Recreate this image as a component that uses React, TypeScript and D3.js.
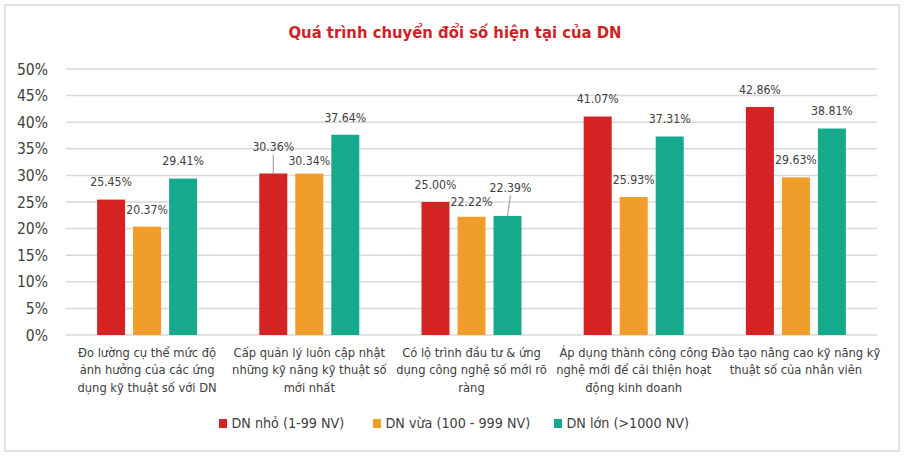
import React from "react";
import * as d3 from "d3";

const title = "Quá trình chuyển đổi số hiện tại của DN";
const categories = [
  ["Đo lường cụ thể mức độ", "ảnh hưởng của các ứng", "dụng kỹ thuật số với DN"],
  ["Cấp quản lý luôn cập nhật", "những kỹ năng kỹ thuật số", "mới nhất"],
  ["Có lộ trình đầu tư & ứng", "dụng công nghệ số mới rõ", "ràng"],
  ["Áp dụng thành công công", "nghệ mới để cải thiện hoạt", "động kinh doanh"],
  ["Đào tạo nâng cao kỹ năng kỹ", "thuật số của nhân viên"],
];
const seriesNames = ["DN nhỏ (1-99 NV)", "DN vừa (100 - 999 NV)", "DN lớn (>1000 NV)"];
const smallValues = [25.45, 30.36, 25.0, 41.07, 42.86];
const mediumValues = [20.37, 30.34, 22.22, 25.93, 29.63];
const largeValues = [29.41, 37.64, 22.39, 37.31, 38.81];
const yTicks = [0, 5, 10, 15, 20, 25, 30, 35, 40, 45, 50];

const colors = ["#d42322", "#f09d29", "#16aa8c"];
// label nudges [series-category] -> [dx, dy, leader line]
const labelNudge: Record<string, [number, number, boolean]> = {
  "0-1": [0, -9, true],
  "1-1": [0, 5, false],
  "1-2": [0, 2, false],
  "2-2": [3, -11, true],
};

const FONT = "'DejaVu Sans Condensed', 'DejaVu Sans', sans-serif";

export default function App() {
  const W = 905, H = 459;
  const left = 66, right = 877, top = 69, bottom = 335;
  const series = [smallValues, mediumValues, largeValues];
  const x0 = d3.scaleBand<number>().domain(d3.range(categories.length)).range([left, right]).padding(0);
  const x1 = d3.scaleBand<number>().domain([0, 1, 2]).range([-54, 54]).paddingInner(8 / 36).paddingOuter(4 / 36);
  const y = d3.scaleLinear().domain([0, 50]).range([bottom, top]);
  const fmt = (v: number) => v.toFixed(2) + "%";

  const legendX = [219, 373, 554];

  return (
    <div style={{ position: "absolute", left: 0, top: 0 }}>
      <svg width={W} height={H} style={{ display: "block", background: "#fff" }}>
        <rect x={5} y={5} width={894} height={446} fill="#fff" stroke="#d9d9d9" strokeWidth={1.5} />
        <text x={455} y={38} textAnchor="middle" fontFamily={FONT} fontWeight="bold" fontSize={16.5} fill="#d21f26">
          {title}
        </text>
        {yTicks.map((t) => (
          <g key={t}>
            <line x1={left} x2={right} y1={y(t)} y2={y(t)} stroke="#d9d9d9" strokeWidth={1.5} />
            <text x={48} y={y(t)} dy="0.36em" textAnchor="end" fontFamily={FONT} fontSize={15.5} fill="#404040">
              {t}%
            </text>
          </g>
        ))}
        {series.map((vals, s) =>
          vals.map((v, c) => {
            const cx = x0(c)! + x0.bandwidth() / 2;
            const bx = cx + x1(s)!;
            const bw = x1.bandwidth();
            return (
              <rect key={`b${s}-${c}`} x={bx} y={y(v)} width={bw} height={bottom - y(v)} fill={colors[s]} />
            );
          })
        )}
        {series.map((vals, s) =>
          vals.map((v, c) => {
            const cx = x0(c)! + x0.bandwidth() / 2;
            const bc = cx + x1(s)! + x1.bandwidth() / 2;
            const n = labelNudge[`${s}-${c}`] || [0, 0, false];
            const lx = bc + n[0];
            const ly = y(v) - 17.5 + n[1];
            return (
              <g key={`l${s}-${c}`}>
                {n[2] && <line x1={lx} y1={ly + 8} x2={bc} y2={y(v)} stroke="#a6a6a6" strokeWidth={1.2} />}
                <text x={lx} y={ly} dy="0.36em" textAnchor="middle" fontFamily={FONT} fontSize={12.2} fill="#404040">
                  {fmt(v)}
                </text>
              </g>
            );
          })
        )}
        {categories.map((lines, c) => {
          const cx = x0(c)! + x0.bandwidth() / 2;
          return (
            <text key={`c${c}`} x={cx} textAnchor="middle" fontFamily={FONT} fontSize={12.8} fill="#404040">
              {lines.map((ln, i) => (
                <tspan key={i} x={cx} y={352 + i * 17.5} dy="0.36em">
                  {ln}
                </tspan>
              ))}
            </text>
          );
        })}
        {seriesNames.map((name, s) => (
          <g key={`lg${s}`}>
            <rect x={legendX[s]} y={419} width={8} height={9} fill={colors[s]} />
            <text x={legendX[s] + 12.5} y={423} dy="0.36em" fontFamily={FONT} fontSize={14.2} fill="#404040">
              {name}
            </text>
          </g>
        ))}
      </svg>
    </div>
  );
}
